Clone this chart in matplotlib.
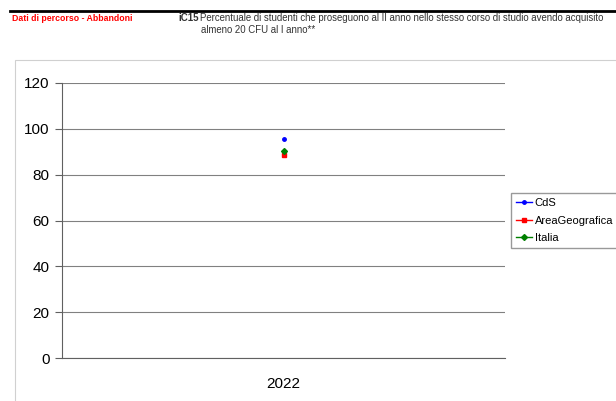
import matplotlib.pyplot as plt
import matplotlib.patches as patches
import matplotlib

matplotlib.rcParams['font.family'] = ['Liberation Sans', 'DejaVu Sans']

anni = ['2022']
cds = [95.5]
area_geo = [88.5]
italia = [90.2]

fig = plt.figure(figsize=(6.16, 4.01), dpi=100)
ax = fig.add_axes([62 / 616, 1 - 358 / 401, 443 / 616, 275 / 401])

x = range(len(anni))
ax.plot(x, cds, marker='o', markersize=2.5, color='blue', linewidth=1, label='CdS')
ax.plot(x, area_geo, marker='s', markersize=2.5, color='red', linewidth=1, label='AreaGeografica')
ax.plot(x, italia, marker='D', markersize=3, color='green', linewidth=1, label='Italia')

ax.set_xlim(-0.5, 0.5)
ax.set_ylim(0, 120)
ax.set_yticks(range(0, 121, 20))
ax.set_xticks(list(x))
ax.set_xticklabels(anni)
ax.yaxis.grid(True, color='#808080', linewidth=0.8)
ax.set_axisbelow(True)
for s in ['top', 'right']:
    ax.spines[s].set_visible(False)
ax.spines['left'].set_color('#606060')
ax.spines['bottom'].set_color('#606060')
ax.tick_params(axis='y', length=5, color='#606060', labelsize=11, pad=4)
ax.tick_params(axis='x', length=0, labelsize=11, pad=14)

leg = ax.legend(loc='center left', bbox_to_anchor=(1.013, 0.5), fontsize=8,
                frameon=True, fancybox=False, edgecolor='#808080',
                handlelength=1.4, handletextpad=0.25, borderpad=0.5,
                labelspacing=0.65, borderaxespad=0)

# cornice esterna del grafico
fig.patches.append(patches.Rectangle((15 / 616, -0.01), 0.99, 1 - 60 / 401 + 0.01,
                                     transform=fig.transFigure, fill=False,
                                     edgecolor='#d0d0d0', linewidth=0.8))
# linea nera in alto
fig.add_artist(plt.Line2D([10 / 616, 1], [1 - 11 / 401, 1 - 11 / 401],
                          transform=fig.transFigure, color='black', linewidth=2))

fig.text(12 / 616, 1 - 21 / 401, 'Dati di percorso - Abbandoni', color='red',
         fontsize=6.3, fontweight='bold')
fig.text(178 / 616, 1 - 21 / 401, 'iC15', color='#333333', fontsize=7, fontweight='bold')
fig.text(200 / 616, 1 - 21 / 401,
         'Percentuale di studenti che proseguono al II anno nello stesso corso di studio avendo acquisito',
         color='#333333', fontsize=6.95)
fig.text(201 / 616, 1 - 33 / 401, 'almeno 20 CFU al I anno**', color='#333333', fontsize=6.95)

plt.savefig('out.png', dpi=100)
